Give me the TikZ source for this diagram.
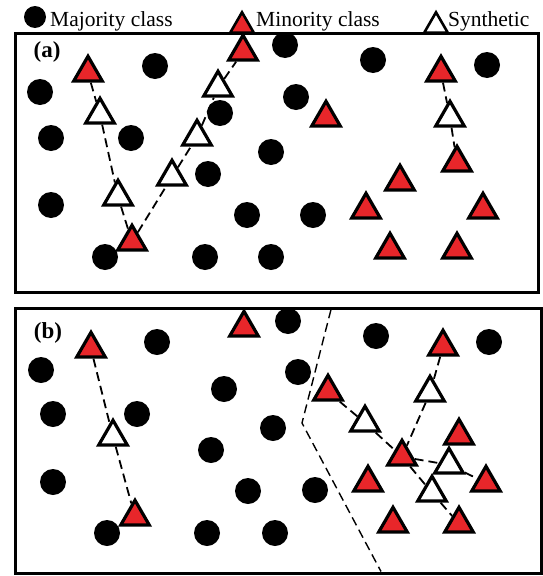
\documentclass[tikz,border=0pt]{standalone}
\usepackage{fontspec}
\setmainfont{Liberation Serif}
\usetikzlibrary{shapes.geometric}
\definecolor{minred}{RGB}{232,38,42}
\tikzset{
  maj/.style={circle, fill=black, minimum size=26pt, inner sep=0pt},
  mino/.style={regular polygon, regular polygon sides=3, minimum size=33pt, inner sep=0pt,
    draw=black, line width=3.2pt, fill=minred, yshift=-4.8pt},
  syn/.style={mino, fill=white},
  lmaj/.style={maj, minimum size=22pt},
  lmino/.style={mino, minimum size=27pt, line width=2.6pt, yshift=-4pt},
  lsyn/.style={lmino, fill=white},
  link/.style={line width=1.8pt, dash pattern=on 9pt off 5pt},
  panel/.style={line width=3pt},
  plabel/.style={font=\fontsize{23}{26}\selectfont\bfseries, inner sep=0pt},
  legtext/.style={font=\fontsize{21.5}{24}\selectfont, inner sep=0pt, anchor=base west}
}
\begin{document}
\begin{tikzpicture}[x=1pt,y=-1pt]
\useasboundingbox (0,0) rectangle (542,576);
% legend
\node[lmaj] (lg1) at (35,17) {};
\node[legtext] (lt1) at (50,26) {Majority class};
\node[lmino] (lg2) at (242,17) {};
\node[legtext] (lt2) at (256,26) {Minority class};
\node[lsyn] (lg3) at (436,17) {};
\node[legtext] (lt3) at (448,26) {Synthetic};
% panel a
\draw[panel] (15,33) rectangle (538,292);
\node[plabel] (la) at (47,52) {(a)};
\foreach \n/\x/\y in {a1/155/66, a2/40/92, a3/51/138, a4/131/138, a5/220/113, a6/285/45,
  a7/373/60, a8/487/65, a9/296/97, a10/271/152, a11/208/174, a12/51/205, a13/247/215,
  a14/313/215, a15/105/257, a16/205/257, a17/271/257}
  \node[maj] (\n) at (\x,\y) {};
\foreach \n/\x/\y in {ar1/88/68, ar2/132/237, ar3/243/47, ar4/441/68, ar5/326/113,
  ar6/457/158, ar7/400/177, ar8/366/205, ar9/483/205, ar10/390/245, ar11/457/245}
  \node[mino] (\n) at (\x,\y) {};
\foreach \n/\x/\y in {as1/100/110, as2/118/192, as3/172/172, as4/197/132, as5/218/83, as6/450/113}
  \node[syn] (\n) at (\x,\y) {};
\draw[link] (ar1) -- (as1) -- (as2) -- (ar2);
\draw[link] (ar2) -- (as3) -- (as4) -- (as5) -- (ar3);
\draw[link] (ar4) -- (as6) -- (ar6);
% panel b
\draw[panel] (15,308) rectangle (541,573);
\node[plabel] (lb) at (48,333) {(b)};
\foreach \n/\x/\y in {b1/157/342, b2/288/321, b3/41/370, b4/224/389, b5/53/414, b6/137/414,
  b7/273/428, b8/211/450, b9/53/482, b10/248/491, b11/107/533, b12/207/533, b13/275/533,
  b14/376/336, b15/489/342, b16/298/372, b17/315/490}
  \node[maj] (\n) at (\x,\y) {};
\foreach \n/\x/\y in {br1/91/344, br2/244/323, br3/135/512, br4/443/342, br5/328/387,
  br6/459/431, br7/402/452, br8/368/478, br9/486/478, br10/393/519, br11/459/519}
  \node[mino] (\n) at (\x,\y) {};
\foreach \n/\x/\y in {bs1/113/432, bs2/430/388, bs3/365/418, bs4/449/460, bs5/432/488}
  \node[syn] (\n) at (\x,\y) {};
\draw[link] (br1) -- (bs1) -- (br3);
\draw[link] (br5) -- (bs3) -- (br7);
\draw[link] (br4) -- (bs2) -- (br7);
\draw[link] (br7) -- (bs4) -- (br9);
\draw[link] (br7) -- (bs5) -- (br11);
\coordinate (d1) at (331,309.5);
\coordinate (d2) at (302,423);
\coordinate (d3) at (381,571.5);
\draw[link, line width=1.4pt] (d1) -- (d2) -- (d3);
\end{tikzpicture}
\end{document}
